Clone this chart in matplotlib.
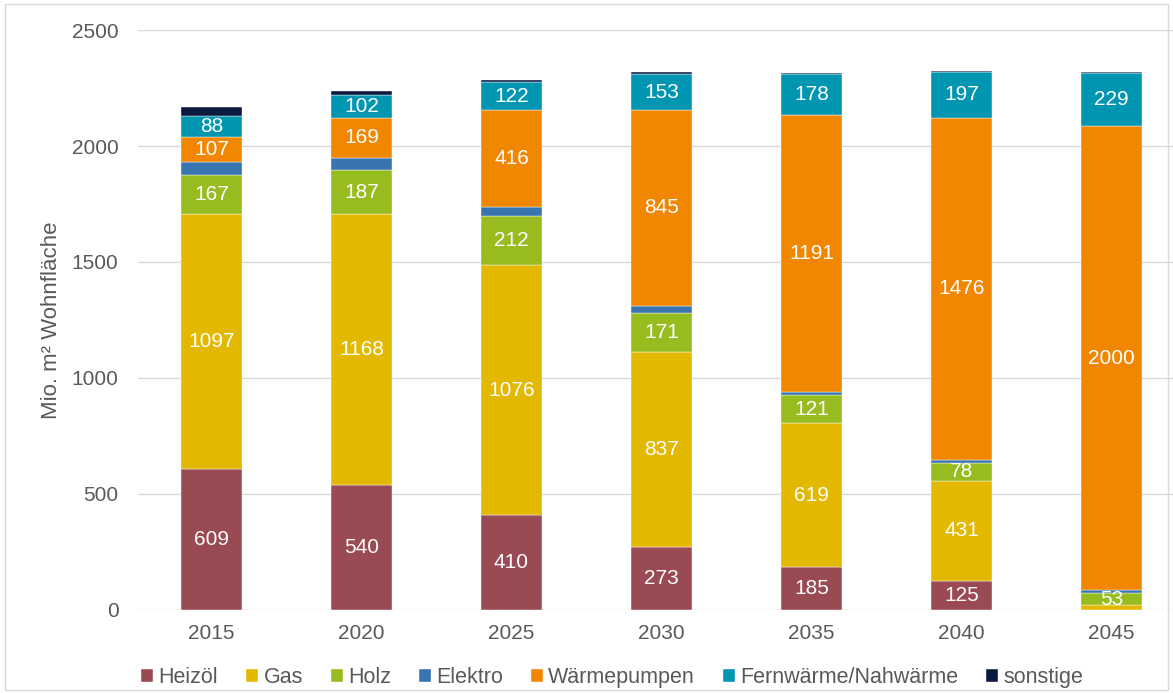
import numpy as np
import matplotlib.pyplot as plt
from matplotlib.patches import Rectangle

plt.rcParams['font.family'] = ['Liberation Sans', 'DejaVu Sans']

years = ['2015', '2020', '2025', '2030', '2035', '2040', '2045']
heizoel = [609, 540, 410, 273, 185, 125, 0]
gas = [1097, 1168, 1076, 837, 619, 431, 20]
holz = [167, 187, 212, 171, 121, 78, 53]
elektro = [60, 55, 40, 30, 16, 12, 13]
waermepumpen = [107, 169, 416, 845, 1191, 1476, 2000]
fernwaerme = [88, 102, 122, 153, 178, 197, 229]
sonstige = [40, 17, 8, 8, 6, 3, 3]

series = [
    ('Heizöl', heizoel, '#9A4A53', True),
    ('Gas', gas, '#E2B900', True),
    ('Holz', holz, '#97BC1F', True),
    ('Elektro', elektro, '#3874B0', False),
    ('Wärmepumpen', waermepumpen, '#F18700', True),
    ('Fernwärme/Nahwärme', fernwaerme, '#0096B1', True),
    ('sonstige', sonstige, '#0B1840', False),
]

fig = plt.figure(figsize=(11.73, 6.93), dpi=100)
ax = fig.add_axes([0.1176, 0.1198, 0.8824, 0.8369])
fig.patches.append(Rectangle((0.004, 0.004), 0.992, 0.99, transform=fig.transFigure,
                             fill=False, edgecolor='#D9D9D9', linewidth=1))

x = np.arange(len(years))
bottom = np.zeros(len(years))
for name, vals, col, show in series:
    vals = np.array(vals, dtype=float)
    ax.bar(x, vals, 0.41, bottom=bottom, color=col, label=name,
           edgecolor='white', linewidth=0.3, zorder=3)
    if show:
        for xi, b, v in zip(x, bottom, vals):
            if v >= 50:
                ax.text(xi, b + v / 2, '%d' % v, ha='center', va='center',
                        color='white', fontsize=15, zorder=4)
    bottom += vals

ax.set_ylim(0, 2500)
ax.set_xlim(-0.49, 6.41)
ax.set_yticks([0, 500, 1000, 1500, 2000, 2500])
ax.set_xticks(x)
ax.set_xticklabels(years)
ax.yaxis.grid(True, color='#D9D9D9', linewidth=1, zorder=0)
ax.set_axisbelow(True)
for s in ax.spines.values():
    s.set_visible(False)
ax.tick_params(length=0, labelsize=15, colors='#595959')
ax.tick_params(axis='x', pad=10)
ax.tick_params(axis='y', pad=14)
ax.set_ylabel('Mio. m² Wohnfläche', fontsize=16, color='#595959', labelpad=7)

ax.legend(loc='center left', bbox_to_anchor=(0.1205, 0.022), bbox_transform=fig.transFigure,
          ncol=7, frameon=False, fontsize=15.5, handlelength=0.55, handleheight=0.55,
          handletextpad=0.25, columnspacing=1.3, labelcolor='#595959', borderpad=0,
          borderaxespad=0)

fig.savefig('out.png', dpi=100)
